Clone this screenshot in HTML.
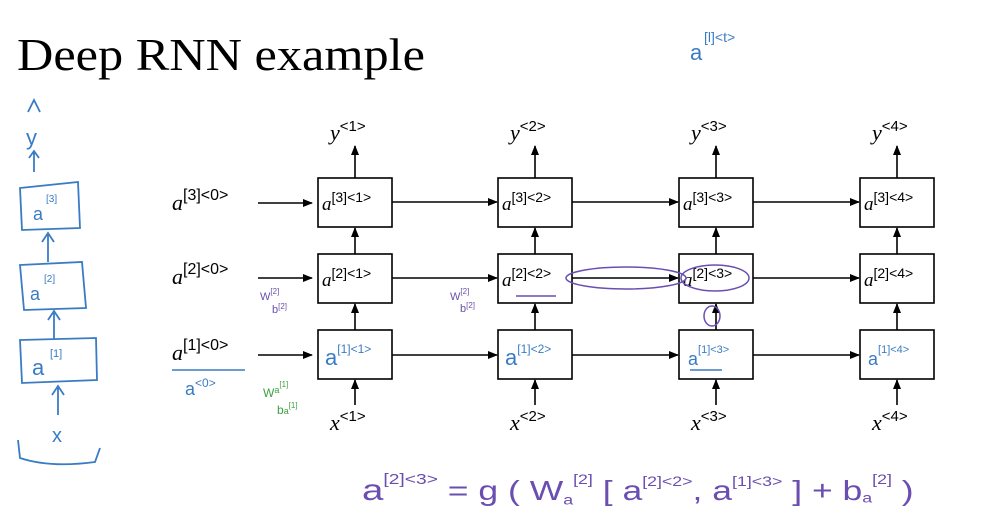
<!DOCTYPE html>
<html><head><meta charset="utf-8"><style>
html,body{margin:0;padding:0;background:#fff;}
svg{display:block;}
.s{font-family:"Liberation Serif",serif;fill:#000;}
.b{stroke:#000;stroke-width:1.6;fill:#fff;}
.l{stroke:#000;stroke-width:1.6;}
.h{font-family:"Liberation Sans",sans-serif;}
.p{font-family:"Liberation Sans",sans-serif;font-style:normal;}
</style></head><body>
<svg width="995" height="528" viewBox="0 0 995 528" xmlns="http://www.w3.org/2000/svg">
<defs><marker id="ar" markerWidth="10" markerHeight="10" refX="9" refY="5" orient="auto" markerUnits="userSpaceOnUse"><path d="M0,1 L10,5 L0,9 z" fill="#000"/></marker></defs>
<text x="17" y="70" class="s" font-size="46" textLength="408" lengthAdjust="spacingAndGlyphs">Deep RNN example</text>
<text x="690" y="60" class="h" font-size="22" fill="#3a7cc4">a</text>
<text x="704" y="42" class="h" font-size="14" fill="#3a7cc4">[l]&lt;t&gt;</text>

<g class="s" font-size="22" font-style="italic">
<text x="172" y="210">a<tspan class="p" font-size="16" dy="-10">[3]&lt;0&gt;</tspan></text>
<text x="172" y="284">a<tspan class="p" font-size="16" dy="-10">[2]&lt;0&gt;</tspan></text>
<text x="172" y="360">a<tspan class="p" font-size="16" dy="-10">[1]&lt;0&gt;</tspan></text>
</g>
<line x1="258" y1="203" x2="312" y2="203" class="l" marker-end="url(#ar)"/>
<line x1="258" y1="278" x2="312" y2="278" class="l" marker-end="url(#ar)"/>
<line x1="258" y1="355" x2="312" y2="355" class="l" marker-end="url(#ar)"/>

<g>
<rect x="318" y="178" width="74" height="49" class="b"/><rect x="318" y="254" width="74" height="49" class="b"/><rect x="318" y="330" width="74" height="49" class="b"/>
<rect x="498" y="178" width="74" height="49" class="b"/><rect x="498" y="254" width="74" height="49" class="b"/><rect x="498" y="330" width="74" height="49" class="b"/>
<rect x="679" y="178" width="74" height="49" class="b"/><rect x="679" y="254" width="74" height="49" class="b"/><rect x="679" y="330" width="74" height="49" class="b"/>
<rect x="860" y="178" width="74" height="49" class="b"/><rect x="860" y="254" width="74" height="49" class="b"/><rect x="860" y="330" width="74" height="49" class="b"/>
</g>
<g class="l">
<line x1="392" y1="202" x2="497" y2="202" marker-end="url(#ar)"/>
<line x1="572" y1="202" x2="678" y2="202" marker-end="url(#ar)"/>
<line x1="753" y1="202" x2="859" y2="202" marker-end="url(#ar)"/>
<line x1="392" y1="278" x2="497" y2="278" marker-end="url(#ar)"/>
<line x1="572" y1="278" x2="678" y2="278" marker-end="url(#ar)"/>
<line x1="753" y1="278" x2="859" y2="278" marker-end="url(#ar)"/>
<line x1="392" y1="355" x2="497" y2="355" marker-end="url(#ar)"/>
<line x1="572" y1="355" x2="678" y2="355" marker-end="url(#ar)"/>
<line x1="753" y1="355" x2="859" y2="355" marker-end="url(#ar)"/>
</g>
<g class="l">
<line x1="355" y1="178" x2="355" y2="146" marker-end="url(#ar)"/><line x1="355" y1="254" x2="355" y2="228" marker-end="url(#ar)"/><line x1="355" y1="330" x2="355" y2="304" marker-end="url(#ar)"/><line x1="355" y1="405" x2="355" y2="380" marker-end="url(#ar)"/>
<line x1="535" y1="178" x2="535" y2="146" marker-end="url(#ar)"/><line x1="535" y1="254" x2="535" y2="228" marker-end="url(#ar)"/><line x1="535" y1="330" x2="535" y2="304" marker-end="url(#ar)"/><line x1="535" y1="405" x2="535" y2="380" marker-end="url(#ar)"/>
<line x1="716" y1="178" x2="716" y2="146" marker-end="url(#ar)"/><line x1="716" y1="254" x2="716" y2="228" marker-end="url(#ar)"/><line x1="716" y1="330" x2="716" y2="304" marker-end="url(#ar)"/><line x1="716" y1="405" x2="716" y2="380" marker-end="url(#ar)"/>
<line x1="897" y1="178" x2="897" y2="146" marker-end="url(#ar)"/><line x1="897" y1="254" x2="897" y2="228" marker-end="url(#ar)"/><line x1="897" y1="330" x2="897" y2="304" marker-end="url(#ar)"/><line x1="897" y1="405" x2="897" y2="380" marker-end="url(#ar)"/>
</g>
<g class="s" font-size="22" font-style="italic">
<text x="330" y="140">y<tspan class="p" font-size="15" dy="-9">&lt;1&gt;</tspan></text>
<text x="510" y="140">y<tspan class="p" font-size="15" dy="-9">&lt;2&gt;</tspan></text>
<text x="691" y="140">y<tspan class="p" font-size="15" dy="-9">&lt;3&gt;</tspan></text>
<text x="872" y="140">y<tspan class="p" font-size="15" dy="-9">&lt;4&gt;</tspan></text>
<text x="330" y="430">x<tspan class="p" font-size="15" dy="-9">&lt;1&gt;</tspan></text>
<text x="510" y="430">x<tspan class="p" font-size="15" dy="-9">&lt;2&gt;</tspan></text>
<text x="691" y="430">x<tspan class="p" font-size="15" dy="-9">&lt;3&gt;</tspan></text>
<text x="872" y="430">x<tspan class="p" font-size="15" dy="-9">&lt;4&gt;</tspan></text>
</g>
<g class="s" font-size="19" font-style="italic">
<text x="322" y="210">a<tspan class="p" font-size="14" dy="-8">[3]&lt;1&gt;</tspan></text>
<text x="502" y="210">a<tspan class="p" font-size="14" dy="-8">[3]&lt;2&gt;</tspan></text>
<text x="683" y="210">a<tspan class="p" font-size="14" dy="-8">[3]&lt;3&gt;</tspan></text>
<text x="864" y="210">a<tspan class="p" font-size="14" dy="-8">[3]&lt;4&gt;</tspan></text>
<text x="322" y="286">a<tspan class="p" font-size="14" dy="-8">[2]&lt;1&gt;</tspan></text>
<text x="502" y="286">a<tspan class="p" font-size="14" dy="-8">[2]&lt;2&gt;</tspan></text>
<text x="683" y="286">a<tspan class="p" font-size="14" dy="-8">[2]&lt;3&gt;</tspan></text>
<text x="864" y="286">a<tspan class="p" font-size="14" dy="-8">[2]&lt;4&gt;</tspan></text>
</g>
<g class="h" fill="#3a7cc4">
<text x="325" y="365" font-size="22">a<tspan font-size="12" dy="-12">[1]&lt;1&gt;</tspan></text>
<text x="505" y="365" font-size="22">a<tspan font-size="12" dy="-12">[1]&lt;2&gt;</tspan></text>
<text x="688" y="365" font-size="18">a<tspan font-size="11" dy="-12">[1]&lt;3&gt;</tspan></text>
<text x="868" y="365" font-size="18">a<tspan font-size="11" dy="-12">[1]&lt;4&gt;</tspan></text>
<text x="185" y="395" font-size="18">a<tspan font-size="12" dy="-8">&lt;0&gt;</tspan></text>
</g>
<line x1="172" y1="370" x2="245" y2="370" stroke="#3a7cc4" stroke-width="1.5"/>
<line x1="690" y1="370" x2="722" y2="370" stroke="#3a7cc4" stroke-width="1.5"/>
<g stroke="#6a4fb0" fill="none" stroke-width="1.5">
<ellipse cx="626" cy="278" rx="60" ry="11"/>
<ellipse cx="715" cy="278" rx="34" ry="13"/>
<ellipse cx="712" cy="316" rx="8" ry="10"/>
<line x1="516" y1="296" x2="556" y2="296"/>
</g>
<g class="h" fill="#6a4fb0" font-size="11">
<text x="260" y="300">W<tspan font-size="8" dy="-6">[2]</tspan></text><text x="272" y="313">b<tspan font-size="8" dy="-4">[2]</tspan></text>
<text x="450" y="300">W<tspan font-size="8" dy="-6">[2]</tspan></text><text x="460" y="312">b<tspan font-size="8" dy="-4">[2]</tspan></text>
</g>
<g class="h" fill="#3fa040" font-size="12">
<text x="263" y="397">W<tspan font-size="9" dy="-4">a</tspan><tspan font-size="8" dy="-6">[1]</tspan></text>
<text x="277" y="414">b<tspan font-size="9">a</tspan><tspan font-size="8" dy="-6">[1]</tspan></text>
</g>
<g transform="translate(362,500) scale(1.48,1.15)">
<text x="0" y="0" class="h" font-size="26" fill="#6a4fb0">a<tspan font-size="13" dy="-14">[2]&lt;3&gt;</tspan><tspan font-size="24" dy="14"> = g ( W</tspan><tspan font-size="12" dy="4">a</tspan><tspan font-size="12" dy="-18">[2]</tspan><tspan font-size="24" dy="14"> [ a</tspan><tspan font-size="12" dy="-12">[2]&lt;2&gt;</tspan><tspan font-size="24" dy="12">, a</tspan><tspan font-size="12" dy="-12">[1]&lt;3&gt;</tspan><tspan font-size="24" dy="12"> ] + b</tspan><tspan font-size="12" dy="2">a</tspan><tspan font-size="12" dy="-16">[2]</tspan><tspan font-size="24" dy="14"> )</tspan></text>
</g>
<g stroke="#3a7cc4" fill="none" stroke-width="1.8">
<path d="M28,112 L34,100 L40,112"/>
<path d="M34,172 L34,152 M29,158 L34,151 L39,158"/>
<path d="M20,188 L78,182 L80,228 L22,230 Z"/>
<path d="M48,262 L48,235 M42,242 L48,233 L54,242"/>
<path d="M20,265 L82,262 L86,308 L24,310 Z"/>
<path d="M54,340 L54,313 M48,320 L54,311 L60,320"/>
<path d="M20,340 L96,338 L97,380 L22,383 Z"/>
<path d="M58,415 L58,388 M52,395 L58,386 L64,395"/>
<path d="M18,440 L20,458 Q50,468 95,462 L100,448"/>
</g>
<g class="h" fill="#3a7cc4">
<text x="26" y="145" font-size="22">y</text>
<text x="33" y="220" font-size="18">a</text><text x="46" y="202" font-size="10">[3]</text>
<text x="30" y="300" font-size="18">a</text><text x="44" y="282" font-size="10">[2]</text>
<text x="32" y="375" font-size="22">a</text><text x="50" y="357" font-size="11">[1]</text>
<text x="52" y="442" font-size="20">x</text>
</g>
</svg>
</body></html>
